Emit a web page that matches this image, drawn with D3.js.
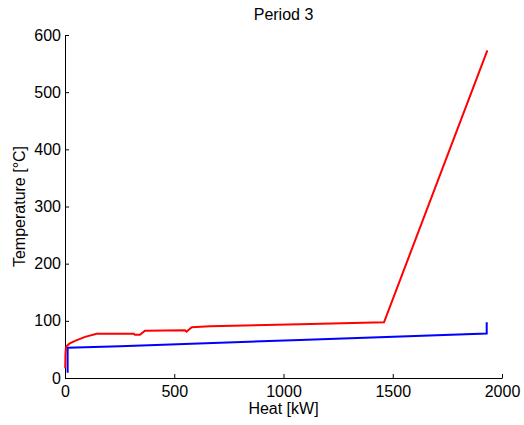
<!DOCTYPE html>
<html>
<head>
<meta charset="utf-8">
<script src="https://cdn.jsdelivr.net/npm/d3@7"></script>
<style>
  body { margin: 0; background: #fff; }
  text { font-family: "Liberation Sans", Arial, sans-serif; }
</style>
</head>
<body>
<script>
// hot composite curve (red)
var hotHeat = [1, 2, 4, 8, 20, 46, 92, 145, 315, 320, 343, 366, 549, 556, 580, 664, 1075, 1460, 1933];
var hotTemp = [17, 40, 52, 56, 60, 65, 72, 77.5, 77.5, 75.5, 75.5, 82.8, 83.4, 81, 88.7, 90.4, 94, 97.5, 573];

// cold composite curve (blue)
var coldHeat = [12, 12, 252, 1075, 1930, 1930];
var coldTemp = [9, 53, 55.5, 66.5, 78, 97.4];

var xTicks = [0, 500, 1000, 1500, 2000];
var yTicks = [0, 100, 200, 300, 400, 500, 600];

var W = 524, H = 425;
var margin = { top: 35, right: 22, bottom: 47, left: 65 },
    width = W - margin.left - margin.right,
    height = H - margin.top - margin.bottom;

var svg = d3.select("body").append("svg")
    .attr("width", W)
    .attr("height", H);

var g = svg.append("g")
    .attr("transform", "translate(" + margin.left + "," + margin.top + ")");

var x = d3.scaleLinear().domain([0, 2000]).range([0, width]);
var y = d3.scaleLinear().domain([0, 600]).range([height, 0]);

// axes, matlab style: ticks inside, no box
var xAxis = g.append("g")
    .attr("transform", "translate(0," + height + ")")
    .call(d3.axisBottom(x).tickValues(xTicks).tickFormat(d3.format("d"))
      .tickSizeInner(-4).tickSizeOuter(0).tickPadding(8));
var yAxis = g.append("g")
    .call(d3.axisLeft(y).tickValues(yTicks).tickFormat(d3.format("d"))
      .tickSizeInner(-4).tickSizeOuter(0).tickPadding(4));

[xAxis, yAxis].forEach(function(a) {
  a.attr("font-family", null).attr("font-size", null);
  a.selectAll("text").style("font-size", "16px").attr("fill", "#000");
  a.selectAll("line").attr("stroke", "#000");
  a.select(".domain").attr("stroke", "#000");
});

var line = d3.line()
    .x(function(d) { return x(d[0]); })
    .y(function(d) { return y(d[1]); });

var hot = hotHeat.map(function(q, i) { return [q, hotTemp[i]]; });
var cold = coldHeat.map(function(q, i) { return [q, coldTemp[i]]; });

g.append("path").datum(cold)
    .attr("d", line)
    .attr("fill", "none")
    .attr("stroke", "#0000ff")
    .attr("stroke-width", 2);

g.append("path").datum(hot)
    .attr("d", line)
    .attr("fill", "none")
    .attr("stroke", "#ff0000")
    .attr("stroke-width", 2);

// labels
svg.append("text")
    .attr("x", margin.left + width / 2)
    .attr("y", 20)
    .attr("text-anchor", "middle")
    .style("font-size", "16px")
    .text("Period 3");

svg.append("text")
    .attr("x", margin.left + width / 2)
    .attr("y", 414)
    .attr("text-anchor", "middle")
    .style("font-size", "16px")
    .text("Heat [kW]");

svg.append("text")
    .attr("transform", "translate(25," + (margin.top + height / 2) + ") rotate(-90)")
    .attr("text-anchor", "middle")
    .style("font-size", "16px")
    .text("Temperature [°C]");
</script>
</body>
</html>
